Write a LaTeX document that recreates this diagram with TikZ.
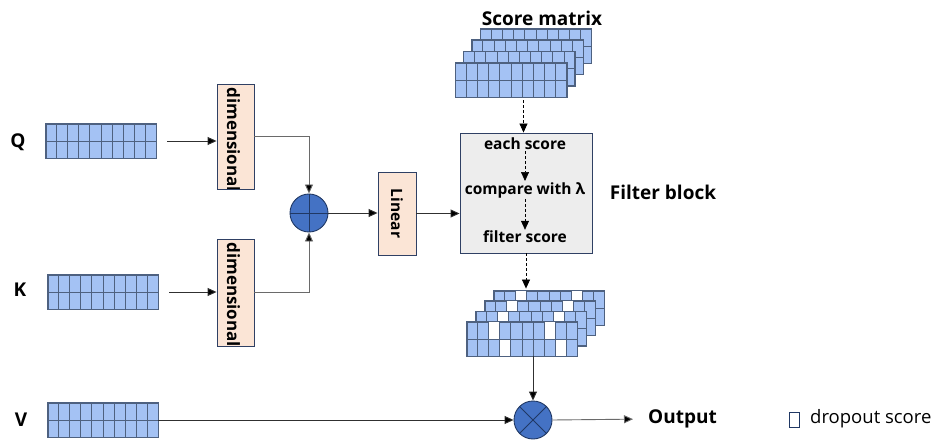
\documentclass[tikz,border=0pt]{standalone}
\usepackage{fontspec}
\setmainfont{Open Sans}
\usetikzlibrary{arrows.meta,calc}
\definecolor{cellfill}{HTML}{A4C2F4}
\definecolor{cellline}{HTML}{4E6180}
\definecolor{dimfill}{HTML}{FBE5D6}
\definecolor{boxline}{HTML}{2F4064}
\definecolor{filtfill}{HTML}{EDEDED}
\definecolor{circfill}{HTML}{4472C4}
\definecolor{circline}{HTML}{203864}
\definecolor{conn}{HTML}{303030}
\definecolor{connlight}{HTML}{6A6A6A}
\tikzset{
  mat/.style={draw=cellline, fill=cellfill, minimum width=110pt, minimum height=34pt, inner sep=0pt, line width=0.9pt},
  cellgrid/.style={draw=cellline, line width=0.9pt},
  dimbox/.style={draw=boxline, fill=dimfill, inner sep=0pt, line width=0.9pt},
  filtbox/.style={draw=boxline, fill=filtfill, inner sep=0pt, line width=0.9pt, minimum width=132pt, minimum height=120pt},
  circ/.style={circle, draw=circline, fill=circfill, minimum size=38pt, inner sep=0pt, line width=0.9pt},
  circmark/.style={draw=circline, line width=0.9pt},
  arr/.style={draw=conn, line width=0.9pt, -{Triangle[length=9pt,width=8pt,fill=black]}},
  arrlight/.style={draw=connlight, line width=0.9pt, -{Triangle[length=9pt,width=8pt,fill=black]}},
  dasharr/.style={draw=black, line width=0.7pt, dash pattern=on 3pt off 2pt, -{Triangle[length=9pt,width=8pt]}},
  biglbl/.style={font=\fontsize{19pt}{22pt}\selectfont\bfseries, inner sep=0pt},
  inlbl/.style={font=\fontsize{15.5pt}{18pt}\selectfont\bfseries, inner sep=1pt},
  vtext/.style={font=\fontsize{17pt}{19pt}\selectfont\bfseries, rotate=-90, inner sep=0pt},
}
\newcommand\gridcells[1]{%
  \foreach \i in {1,...,9}
    \draw[cellgrid] ($(#1.north west)!\i/10!(#1.north east)$) -- ($(#1.south west)!\i/10!(#1.south east)$);
  \draw[cellgrid] (#1.west) -- (#1.east);
  \draw[cellgrid] (#1.north west) rectangle (#1.south east);}
\newcommand\whitecell[3]{%
  \fill[white] ($(#1.north west)+({11*#2},{17*#3})$) rectangle ++(11,17);}
\newcommand\holes[1]{%
  \whitecell{#1}{2}{0}\whitecell{#1}{7}{0}\whitecell{#1}{3}{1}\whitecell{#1}{8}{1}}
\begin{document}
\begin{tikzpicture}[x=1pt,y=-1pt]
\useasboundingbox (0,0) rectangle (932,441);

% input matrices
\node[biglbl] (ql) at (18,142) {Q};
\node[biglbl] (kl) at (20,290) {K};
\node[biglbl] (vl) at (21,420) {V};
\node[mat] (q) at (101,141) {}; \gridcells{q}
\node[mat] (k) at (103,292) {}; \gridcells{k}
\node[mat] (v) at (103,420) {}; \gridcells{v}

% dimensional boxes
\node[dimbox, minimum width=37pt, minimum height=105pt,
  path picture={\node[vtext, anchor=west] at ([xshift=-2pt,yshift=-3pt]path picture bounding box.north) {dimensional};}]
  (d1) at (235.5,136.5) {};
\node[dimbox, minimum width=37pt, minimum height=107pt,
  path picture={\node[vtext, anchor=west] at ([xshift=-2pt,yshift=-3pt]path picture bounding box.north) {dimensional};}]
  (d2) at (235.5,292.5) {};
\draw[arr, shorten <=11pt] (q.east) -- (q.east -| d1.west);
\draw[arr, shorten <=11pt] (k.east) -- (k.east -| d2.west);

% plus
\node[circ] (plus) at (309,213) {};
\draw[circmark] (plus.north) -- (plus.south) (plus.west) -- (plus.east);
\draw[arrlight] (d1.east) -| (plus.north);
\draw[arrlight] (d2.east) -| (plus.south);

% linear
\node[dimbox, minimum width=38pt, minimum height=83pt] (lin) at (397,213.5) {};
\node[vtext, font=\fontsize{15.5pt}{18pt}\selectfont\bfseries] (lintext) at (lin.center) {Linear};
\draw[arr] (plus.east) -- (lin.west |- plus.east);

% filter block
\node[filtbox] (filt) at (526,193) {};
\draw[arr] (lin.east) -- (lin.east -| filt.west);
\node[inlbl] (e1) at (525,144) {each score};
\node[inlbl] (e2) at (525,190) {compare with λ};
\node[inlbl] (e3) at (525,237) {filter score};
\draw[dasharr] (e1) -- (e2);
\draw[dasharr] (e2) -- (e3);
\node[biglbl, font=\fontsize{19pt}{22pt}\selectfont\bfseries] (fb) at (663,192) {Filter block};

% score matrix stack
\node[biglbl] (st) at (542,18) {Score matrix};
\foreach \kk in {3,2,1,0} {
  \node[mat, minimum width=111pt] (s\kk) at ({511+8.33*\kk},{80-11.33*\kk}) {};
  \gridcells{s\kk}
}
\coordinate (sc) at ($(s0.south)!0.5!(s3.south |- s0.south)$);
\draw[dasharr] ([yshift=-3pt]sc) -- (sc |- filt.north);

% filtered stack
\foreach \kk in {3,2,1,0} {
  \node[mat] (f\kk) at ({522+9*\kk},{339-10.33*\kk}) {};
  \holes{f\kk}
  \gridcells{f\kk}
}
\draw[dasharr, shorten >=2pt] (filt.south) -- (filt.south |- f3.north);

% multiply
\node[circ] (mul) at (533,420) {};
\draw[circmark] (mul.north east) -- (mul.south west) (mul.north west) -- (mul.south east);
\draw[arr] (mul.north |- f0.south) -- (mul.north);
\draw[arr] (v.east) -- (mul.west);
\node[biglbl, anchor=west] (out) at (648,419) {Output};
\draw[arrlight, shorten >=15pt] (mul.east) -- (out.west);

% legend
\node[draw=circline, line width=0.6pt, minimum width=10pt, minimum height=15pt, inner sep=0pt] (lgbox) at (794,419.5) {};
\node[anchor=west, inner sep=0pt, font=\fontsize{18.5pt}{21pt}\selectfont] (lgtxt) at (810,419) {dropout score};
\end{tikzpicture}
\end{document}
